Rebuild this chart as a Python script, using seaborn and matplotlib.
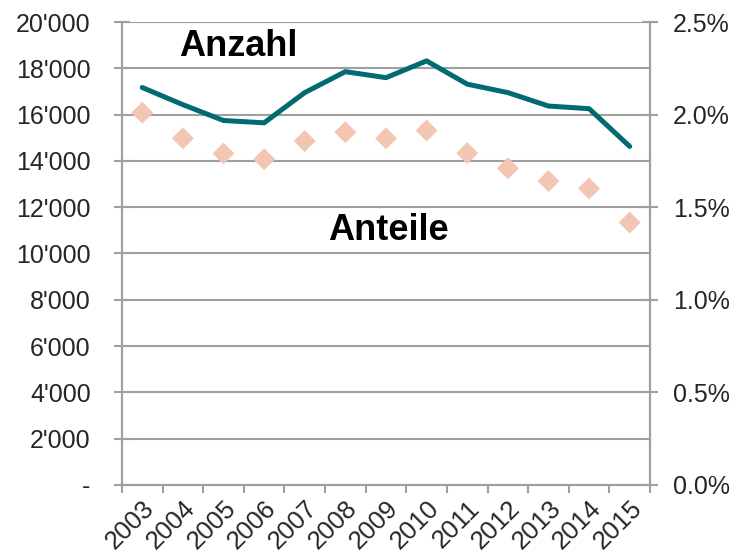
import matplotlib
matplotlib.use("Agg")

import pandas as pd
import seaborn as sns
import matplotlib.pyplot as plt
from matplotlib.ticker import FuncFormatter, FixedLocator


# data
years = [2003, 2004, 2005, 2006, 2007, 2008, 2009, 2010, 2011, 2012, 2013, 2014, 2015]
anzahl = [17170, 16430, 15745, 15645, 16950, 17855, 17595, 18320, 17315, 16950, 16370, 16255, 14625]
anteile = [2.010, 1.872, 1.790, 1.759, 1.857, 1.905, 1.872, 1.914, 1.792, 1.710, 1.641, 1.601, 1.417]

left_ticks = [0, 2000, 4000, 6000, 8000, 10000, 12000, 14000, 16000, 18000, 20000]
right_ticks = [0.0, 0.5, 1.0, 1.5, 2.0, 2.5]

df = pd.DataFrame({"Jahr": years, "Anzahl": anzahl, "Anteile": anteile})

sns.set_theme(style="white")
plt.rcParams["font.family"] = ["Liberation Sans", "DejaVu Sans"]

grid_col = "#9f9f9f"
line_col = "#006b70"
dot_col = "#f3c6b4"

fig = plt.figure(figsize=(7.39, 5.57), dpi=100)
ax = fig.add_axes([0.165, 0.1293, 0.7146, 0.8312])
ax2 = ax.twinx()

sns.lineplot(data=df, x="Jahr", y="Anzahl", ax=ax, color=line_col, linewidth=3.6, zorder=3)
sns.scatterplot(data=df, x="Jahr", y="Anteile", ax=ax2, color=dot_col, marker="D",
                s=125, edgecolor="none", zorder=3)

ax.set_xlim(years[0] - 0.5, years[-1] + 0.5)
ax.set_ylim(0, 20000)
ax2.set_ylim(0, 2.5)

# horizontal grid
ax.yaxis.set_major_locator(FixedLocator(left_ticks))
ax.grid(axis="y", color=grid_col, linewidth=1.5)
ax.grid(axis="x", visible=False)
ax.set_axisbelow(True)

ax.yaxis.set_major_formatter(FuncFormatter(
    lambda v, p: "-" if v == 0 else f"{int(v):,}".replace(",", "'")))
ax2.yaxis.set_major_locator(FixedLocator(right_ticks))
ax2.yaxis.set_major_formatter(FuncFormatter(lambda v, p: f"{v:.1f}%"))

# x: labels at centres, tick marks at boundaries
ax.xaxis.set_major_locator(FixedLocator(years))
ax.xaxis.set_minor_locator(FixedLocator([y - 0.5 for y in years] + [years[-1] + 0.5]))
ax.set_xticklabels([str(y) for y in years], rotation=45, ha="right",
                   rotation_mode="anchor", fontsize=18.5)
ax.tick_params(axis="x", which="major", length=0, pad=8)
ax.tick_params(axis="x", which="minor", length=6, width=1.5, color=grid_col,
               direction="out", bottom=True)
ax.tick_params(axis="y", length=11, width=1.5, color=grid_col, direction="inout",
               labelsize=18, pad=17, left=True)
ax2.tick_params(axis="y", length=11, width=1.5, color=grid_col, direction="inout",
                labelsize=18, pad=11, right=True)

for a in (ax, ax2):
    a.set_xlabel("")
    a.set_ylabel("")
    for side in ("left", "right", "bottom"):
        a.spines[side].set_color(grid_col)
        a.spines[side].set_linewidth(1.5)
    a.spines["top"].set_visible(False)

ax.text(2005.36, 18950, "Anzahl", fontsize=26, fontweight="bold",
        ha="center", va="center", color="black")
ax.text(2009.05, 11000, "Anteile", fontsize=26, fontweight="bold",
        ha="center", va="center", color="black")

fig.savefig("out.png", dpi=100)
